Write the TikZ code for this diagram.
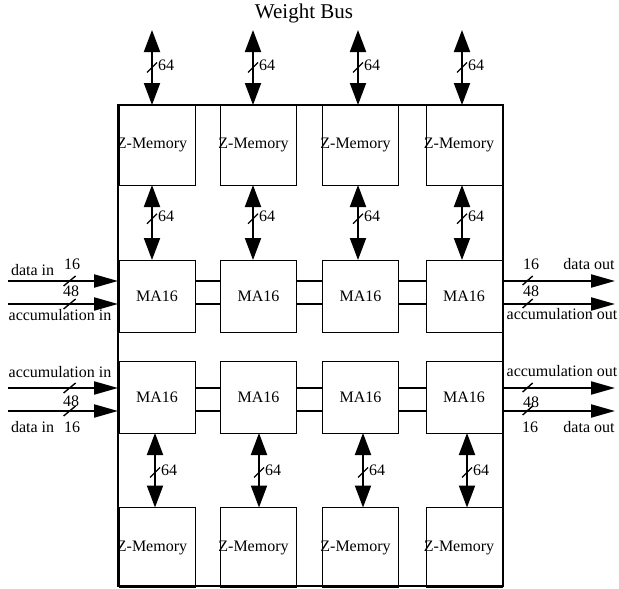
\documentclass[tikz,border=0pt]{standalone}
\usepackage{fontspec}
\setmainfont{Liberation Serif}
\usetikzlibrary{arrows.meta,calc}
\begin{document}
\begin{tikzpicture}[x=1pt,y=-1pt,
  every node/.style={outer sep=0pt},
  txt/.style={font=\fontsize{16}{18}\selectfont,inner sep=0pt},
  box/.style={draw,line width=0.8pt,inner sep=0pt,minimum width=76pt,font=\fontsize{16}{18}\selectfont},
  zm/.style={box,minimum height=80pt},
  ma/.style={box,minimum height=72pt},
  chipbox/.style={draw,line width=2.4pt,inner sep=0pt,minimum width=385pt,minimum height=481pt},
  vbus/.style={line width=2pt,{Triangle[length=22pt,width=16pt]}-{Triangle[length=22pt,width=16pt]}},
  hbus/.style={line width=2pt,-{Triangle[length=24pt,width=13pt]}},
  link/.style={line width=2pt},
  slashline/.style={line width=1.4pt}]
\useasboundingbox (0,0) rectangle (619,589);

% title
\node[txt,font=\fontsize{21}{24}\selectfont] (title) at (304,13) {Weight Bus};

% boxes
\foreach \i/\cx in {1/157,2/258.5,3/360.5,4/464}{
  \node[zm,label={[txt,xshift=-5pt]center:Z-Memory}] (zt\i) at (\cx,145) {};
  \node[ma] (ma1\i) at (\cx,296) {MA16};
  \node[ma] (ma2\i) at (\cx,397) {MA16};
  \node[zm,label={[txt,xshift=-5pt]center:Z-Memory}] (zb\i) at (\cx,547.5) {};
}
\node[chipbox] (chip) at (310.5,345.5) {};

% vertical 64-bit buses
\foreach \i/\xa/\xb in {1/152/155,2/253/259,3/358/363,4/462/467}{
  \coordinate (wb\i) at (\xa,30);
  \draw[vbus] (wb\i) -- coordinate[midway] (s0\i) (wb\i |- chip.north);
  \draw[vbus] (\xa,0 |- zt\i.south) -- coordinate[pos=0.45] (s1\i) (\xa,0 |- ma1\i.north);
  \draw[vbus] (\xb,0 |- ma2\i.south) -- coordinate[pos=0.53] (s2\i) (\xb,0 |- zb\i.north);
  \foreach \k in {0,1,2}{
    \draw[slashline] ($(s\k\i)+(-5,5)$) -- ($(s\k\i)+(5,-5)$);
    \node[txt,anchor=west] (n\k\i) at ($(s\k\i)+(6,-2)$) {64};
  }
}

% links between MA16 cells
\foreach \r/\ya/\yb in {1/281/304,2/388/411}{
  \foreach \i/\j in {1/2,2/3,3/4}{
    \draw[link] (ma\r\i.east |- 0,\ya) -- (ma\r\j.west |- 0,\ya);
    \draw[link] (ma\r\i.east |- 0,\yb) -- (ma\r\j.west |- 0,\yb);
  }
}

% inputs and outputs
\foreach \n/\y in {A/281,B/304,C/388,D/411}{
  \coordinate (in\n) at (8,\y);
  \coordinate (out\n) at (615,\y);
  \draw[hbus] (in\n) -- coordinate[pos=0.56] (si\n) (in\n -| chip.west);
  \draw[hbus] (chip.east |- out\n) -- coordinate[pos=0.22] (so\n) (out\n);
  \draw[slashline] ($(si\n)+(-6,5)$) -- ($(si\n)+(6,-5)$);
  \draw[slashline] ($(so\n)+(-5,4)$) -- ($(so\n)+(5,-5)$);
}

% left labels
\node[txt] (l16a) at (72,264) {16};
\node[txt,anchor=west] (ldia) at (11,270) {data in};
\node[txt] (l48a) at (71,291) {48};
\node[txt] (laia) at (60,315) {accumulation in};
\node[txt] (laib) at (60,372) {accumulation in};
\node[txt] (l48b) at (71,401) {48};
\node[txt,anchor=west] (ldib) at (11,427) {data in};
\node[txt] (l16b) at (72,427) {16};

% right labels
\node[txt] (r16a) at (531,264) {16};
\node[txt] (rdoa) at (589,264) {data out};
\node[txt] (r48a) at (531,291) {48};
\node[txt] (raoa) at (562,314) {accumulation out};
\node[txt] (raob) at (562,371) {accumulation out};
\node[txt] (r48b) at (531,402) {48};
\node[txt] (r16b) at (530,427) {16};
\node[txt] (rdob) at (589,427) {data out};
\end{tikzpicture}
\end{document}
